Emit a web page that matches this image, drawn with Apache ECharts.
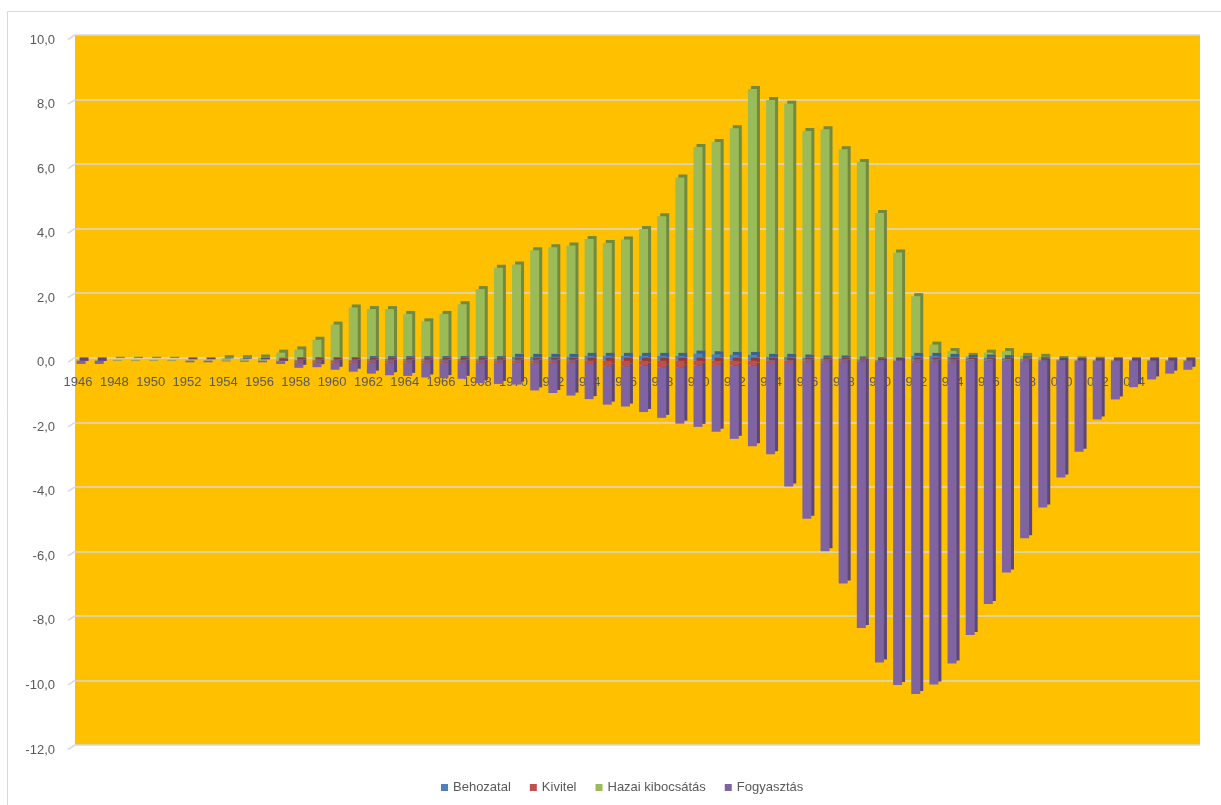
<!DOCTYPE html>
<html>
<head>
<meta charset="utf-8">
<script src="https://cdn.jsdelivr.net/npm/echarts@6/dist/echarts.min.js"></script>
<style>
  html, body { margin: 0; padding: 0; background: #ffffff; }
  #chart { width: 1221px; height: 805px; }
</style>
</head>
<body>
<div id="chart"></div>
<script>
// Years on the category axis
const years = [
  '1946','1947','1948','1949','1950','1951','1952','1953','1954','1955',
  '1956','1957','1958','1959','1960','1961','1962','1963','1964','1965',
  '1966','1967','1968','1969','1970','1971','1972','1973','1974','1975',
  '1976','1977','1978','1979','1980','1981','1982','1983','1984','1985',
  '1986','1987','1988','1989','1990','1991','1992','1993','1994','1995',
  '1996','1997','1998','1999','2000','2001','2002','2003','2004','2005',
  '2006','2007'
];

// Year labels printed along the zero line
const yearLabels = [
  '1946','1948','1950','1952','1954','1956','1958','1960','1962','1964',
  '1966','1968','1970','1972','1974','1976','1978','1980','1982','1984',
  '1986','1988','1990','1992','1994','1996','1998','2000','2002','2004'
];

// Behozatal (positive side, bottom of the stack)
const behozatal = [
  0, 0, 0, 0, 0, 0, 0, 0, 0, 0,
  0, 0, 0.02, 0.02, 0.02, 0.02, 0.05, 0.05, 0.05, 0.05,
  0.05, 0.05, 0.05, 0.05, 0.12, 0.12, 0.12, 0.12, 0.15, 0.15,
  0.15, 0.15, 0.15, 0.15, 0.22, 0.2, 0.18, 0.18, 0.12, 0.12,
  0.1, 0.07, 0.07, 0.04, 0.02, 0.01, 0.15, 0.15, 0.12, 0.1,
  0.1, 0.08, 0.05, 0.03, 0.02, 0.01, 0.01, 0.01, 0.01, 0.01,
  0.01, 0.01
];

// Kivitel (negative side, just below zero)
const kivitel = [
  0, 0, 0, 0, 0, 0, 0, 0, 0, 0,
  0, -0.03, -0.06, -0.06, -0.06, -0.06, -0.06, -0.06, -0.06, -0.06,
  -0.06, -0.06, -0.06, -0.06, -0.06, -0.06, -0.06, -0.06, -0.1, -0.17,
  -0.17, -0.15, -0.2, -0.22, -0.15, -0.13, -0.15, -0.15, -0.07, -0.07,
  -0.05, -0.05, -0.05, -0.03, -0.02, -0.01, -0.05, -0.05, -0.05, -0.04,
  -0.04, -0.04, -0.03, -0.02, -0.01, -0.01, -0.01, -0.01, -0.01, -0.01,
  -0.01, -0.01
];

// Hazai kibocsátás (positive side, on top of Behozatal)
const hazai = [
  0.02, 0.02, 0.03, 0.03, 0.03, 0.03, 0.02, 0.02, 0.08, 0.08,
  0.1, 0.25, 0.33, 0.63, 1.1, 1.63, 1.55, 1.55, 1.4, 1.17,
  1.4, 1.7, 2.17, 2.83, 2.86, 3.3, 3.4, 3.45, 3.62, 3.5,
  3.61, 3.93, 4.33, 5.53, 6.4, 6.58, 7.02, 8.24, 7.96, 7.84,
  7.02, 7.1, 6.48, 6.12, 4.56, 3.34, 1.85, 0.35, 0.18, 0.05,
  0.15, 0.22, 0.1, 0.09, 0.03, 0.03, 0.02, 0.01, 0.01, 0.01,
  0.01, 0.01
];

// Fogyasztás (negative side, below Kivitel)
const fogyasztas = [
  -0.1, -0.1, -0.01, -0.01, -0.01, -0.01, -0.05, -0.05, -0.02, -0.03,
  -0.05, -0.07, -0.16, -0.14, -0.22, -0.28, -0.34, -0.39, -0.41, -0.46,
  -0.48, -0.5, -0.63, -0.66, -0.68, -0.86, -0.94, -1.02, -1.09, -1.19,
  -1.25, -1.44, -1.57, -1.73, -1.9, -2.07, -2.27, -2.5, -2.83, -3.83,
  -4.85, -5.85, -6.85, -8.25, -9.33, -10.04, -10.28, -9.98, -9.33, -8.46,
  -7.5, -6.52, -5.47, -4.53, -3.61, -2.81, -1.81, -1.19, -0.81, -0.57,
  -0.39, -0.27
];

// Value axis ticks
const yTicks = [-12, -10, -8, -6, -4, -2, 0, 2, 4, 6, 8, 10];
const yMin = -12, yMax = 10, yStep = 2;

const textColor = '#595959';
const fontFamily = '"Liberation Sans", Arial, sans-serif';
const gridColor = '#D9D9D9';

function comma(v) { return v.toFixed(1).replace('.', ','); }

// Each series: front face colour and a darker side/top colour for the depth effect
const seriesDefs = [
  { name: 'Behozatal',        data: behozatal,  color: '#4F81BD', side: '#3A6190', z: 4 },
  { name: 'Kivitel',          data: kivitel,    color: '#C0504D', side: '#8F3B39', z: 4 },
  { name: 'Hazai kibocsátás', data: hazai,      color: '#9BBB59', side: '#718A3F', z: 3 },
  { name: 'Fogyasztás',       data: fogyasztas, color: '#8064A2', side: '#5C4878', z: 3 }
];

// Plot layout: back wall and the front plane, shifted by the bar depth
const depth = 3;
const wall = { left: 75, right: 21, top: 35, bottom: 60 };
const front = { left: wall.left - depth, right: wall.right + depth, top: wall.top + depth, bottom: wall.bottom - depth };
const plotHeight = 805 - wall.top - wall.bottom;
// the year axis runs along the zero line of the front plane
const zeroBandHeight = plotHeight * yMax / (yMax - yMin);
// value labels sit a little below their gridlines
const labelDrop = 5;

const chart = echarts.init(document.getElementById('chart'), null, { renderer: 'canvas' });

const option = {
  animation: false,
  backgroundColor: '#ffffff',
  textStyle: { fontFamily: fontFamily },
  legend: {
    left: 436,
    top: 776,
    icon: 'rect',
    itemWidth: 7,
    itemHeight: 7,
    itemGap: 19,
    textStyle: { color: textColor, fontSize: 13, fontFamily: fontFamily },
    data: seriesDefs.map(s => s.name)
  },
  grid: [
    { left: wall.left, right: wall.right, top: wall.top, bottom: wall.bottom, show: true, backgroundColor: '#FFC000', borderWidth: 0 },
    { left: front.left, right: front.right, top: front.top, bottom: front.bottom, show: false },
    { left: front.left, right: front.right, top: front.top, height: zeroBandHeight, show: false },
    { left: front.left, right: front.right, top: wall.top + labelDrop, bottom: wall.bottom - labelDrop, show: false }
  ],
  xAxis: [
    { gridIndex: 0, type: 'category', data: years, show: false },
    { gridIndex: 1, type: 'category', data: years, show: false },
    {
      gridIndex: 2,
      type: 'category',
      data: years,
      position: 'bottom',
      axisLine: { show: false },
      axisTick: { show: false },
      axisLabel: {
        interval: 0,
        color: textColor,
        fontSize: 13,
        fontFamily: fontFamily,
        margin: 15,
        padding: [0, 6, 0, 0],
        formatter: v => yearLabels.indexOf(v) >= 0 ? v : ''
      }
    },
    { gridIndex: 3, type: 'category', data: years, show: false }
  ],
  yAxis: [
    {
      gridIndex: 0,
      type: 'value',
      min: yMin, max: yMax, interval: yStep,
      axisLine: { show: false },
      axisTick: { show: false },
      axisLabel: { show: false },
      splitLine: { show: true, lineStyle: { color: gridColor, width: 1.5 } }
    },
    {
      gridIndex: 1,
      type: 'value',
      min: yMin, max: yMax, interval: yStep,
      show: false
    },
    { gridIndex: 2, type: 'value', min: 0, max: yMax, show: false },
    {
      gridIndex: 3,
      type: 'value',
      min: yMin, max: yMax, interval: yStep,
      axisLine: { show: false },
      axisTick: { show: false },
      splitLine: { show: false },
      axisLabel: {
        color: textColor,
        fontSize: 13,
        fontFamily: fontFamily,
        margin: 17,
        formatter: v => yTicks.indexOf(v) >= 0 ? comma(v) : ''
      }
    }
  ],
  series: seriesDefs.map(s => ({
    name: s.name,
    type: 'bar',
    stack: 'total',
    xAxisIndex: 1,
    yAxisIndex: 1,
    barWidth: 9,
    z: s.z,
    data: s.data,
    itemStyle: {
      color: s.color,
      shadowColor: s.side,
      shadowBlur: 0,
      shadowOffsetX: depth,
      shadowOffsetY: -depth
    },
    emphasis: { disabled: true }
  }))
};

chart.setOption(option);

// Outer chart frame and the small wall edges at the left of each gridline
const graphics = [
  {
    type: 'rect',
    silent: true,
    z: -10,
    shape: { x: 7.5, y: 11.5, width: 1240, height: 820 },
    style: { fill: 'none', stroke: gridColor, lineWidth: 1 }
  }
];
yTicks.forEach(v => {
  const y = chart.convertToPixel({ yAxisIndex: 0 }, v);
  graphics.push({
    type: 'line',
    silent: true,
    z: 5,
    shape: { x1: wall.left - 7, y1: y + 4.5, x2: wall.left, y2: y },
    style: { stroke: gridColor, lineWidth: 1.5 }
  });
});
chart.setOption({ graphic: graphics });
</script>
</body>
</html>
